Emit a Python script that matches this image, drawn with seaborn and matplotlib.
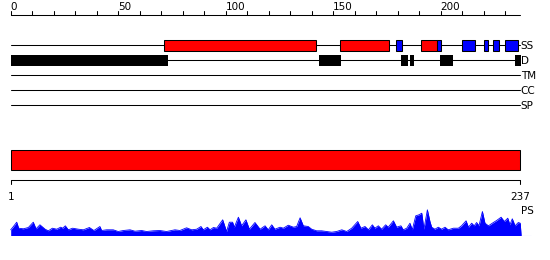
import numpy as np
import pandas as pd
import matplotlib
matplotlib.use("Agg")
import matplotlib.pyplot as plt
import seaborn as sns

# ---------------- data ----------------
seq_len = 237
ruler_ticks = list(range(0, 231, 10))
ruler_labels = [0, 50, 100, 150, 200]

track_names = ["SS", "D", "TM", "CC", "SP"]

helix_start = [71.5, 153.0, 191.0]
helix_end = [142.0, 176.0, 198.4]
strand_start = [179.0, 198.4, 210.0, 220.0, 224.3, 230.0]
strand_end = [182.0, 200.3, 216.0, 222.0, 227.0, 236.0]
disorder_start = [0.0, 143.4, 181.4, 185.8, 199.7, 234.5]
disorder_end = [73.2, 153.4, 184.9, 187.4, 205.5, 237.2]

ps_pos = [0, 0.9, 2.8, 3.7, 5.9, 8.2, 10.5, 11.8, 13.6, 16.0, 17.5, 19.4, 21.4, 23.2,
          24.2, 25.4, 26.8, 28.8, 31.5, 33.8, 36.6, 38.7, 41.5, 42.3, 44.6, 47.7,
          50.0, 52.4, 55.5, 57.8, 60.9, 63.2, 66.3, 69.4, 72.5, 76.4, 78.7, 81.8,
          84.2, 86.5, 88.5, 89.6, 91.5, 92.7, 94.3, 95.8, 98.6, 100.4, 101.7, 103.2,
          104.0, 105.9, 107.4, 109.4, 111.0, 113.6, 116.0, 118.3, 119.8, 121.4,
          122.9, 125.3, 126.8, 129.1, 131.5, 133.0, 134.6, 136.1, 138.4, 140.0,
          142.3, 144.6, 147.0, 149.3, 151.6, 154.0, 156.3, 158.6, 161.4, 162.9,
          164.8, 166.4, 168.2, 169.4, 171.0, 172.5, 174.4, 175.6, 178.0, 179.5,
          181.5, 182.6, 184.2, 185.7, 186.8, 188.4, 189.9, 191.2, 192.2, 193.8,
          195.0, 195.8, 197.3, 198.9, 200.4, 202.0, 203.5, 205.9, 208.2, 209.7,
          211.8, 212.9, 214.4, 215.6, 216.7, 217.8, 219.4, 220.6, 222.2, 224.5,
          226.0, 228.1, 229.6, 231.2, 232.2, 233.3, 234.6, 236.1, 237.0, 237.4]
ps_val = [5.7, 8.0, 13.3, 7.3, 6.7, 8.0, 13.3, 6.7, 10.7, 6.3, 4.7, 7.3, 6.3, 8.3,
          7.3, 9.7, 5.7, 7.3, 6.3, 5.7, 8.0, 5.0, 9.0, 5.0, 5.7, 5.7,
          4.0, 5.0, 5.7, 4.3, 5.0, 4.0, 4.7, 5.0, 4.0, 5.7, 5.0, 7.7,
          5.7, 6.3, 9.0, 5.7, 8.3, 5.7, 8.0, 7.3, 15.7, 4.0, 13.3, 13.3,
          8.3, 18.3, 9.7, 15.7, 6.3, 13.0, 6.3, 9.7, 5.7, 10.7,
          6.3, 8.3, 7.3, 10.3, 8.3, 9.0, 17.7, 9.7, 9.0, 6.3,
          4.7, 4.7, 4.0, 3.3, 4.0, 5.7, 4.0, 7.3, 14.0, 7.3,
          9.0, 5.7, 10.7, 7.3, 9.7, 6.3, 10.7, 8.3, 14.7, 8.3,
          9.7, 5.7, 7.3, 12.3, 5.7, 19.7, 20.7, 22.3, 6.3, 25.7,
          14.0, 8.3, 6.3, 8.3, 6.3, 8.3, 5.7, 7.3, 7.3, 9.7,
          14.7, 8.3, 12.3, 9.7, 13.0, 9.7, 24.0, 12.3, 9.7, 13.0,
          15.0, 18.3, 14.0, 17.3, 10.7, 16.7, 9.7, 13.0, 12.3, 0.0]

# ---------------- layout ----------------
W, H = 550, 260
x0_px, scale = 10.7, 2.15
xlim = (-x0_px / scale, (W - x0_px) / scale)

sns.set_style("white")
plt.rcParams['font.family'] = ['DejaVu Sans']
fs = 7.5
lw = 0.75

fig = plt.figure(figsize=(W / 100, H / 100), dpi=100)
ax = fig.add_axes([0, 0, 1, 1])
ax.set_xlim(*xlim)
ax.set_ylim(H, 0)
ax.axis("off")

# top ruler
ruler_y = 14.7
ax.plot([0, seq_len], [ruler_y, ruler_y], color="black", lw=lw)
for t in ruler_ticks:
    ax.plot([t, t], [ruler_y, ruler_y - 4], color="black", lw=lw)
for t in ruler_labels:
    ax.text(t, 10.2, str(t), ha="left", va="baseline", fontsize=fs, color="black")

# tracks
track_y = [45.3, 60.3, 75.3, 90.3, 105.3]
for name, y in zip(track_names, track_y):
    ax.plot([0, seq_len], [y, y], color="black", lw=lw, zorder=1)
    ax.text(seq_len + 0.2, y + 0.5, name, ha="left", va="center", fontsize=fs, color="black")

box_h = 10.5
ss = pd.DataFrame({
    "start": helix_start + strand_start,
    "end": helix_end + strand_end,
    "kind": ["helix"] * len(helix_start) + ["strand"] * len(strand_start),
})
ss_colors = {"helix": "#ff0000", "strand": "#0000ff"}
for _, r in ss.iterrows():
    ax.barh(track_y[0], r["end"] - r["start"], left=r["start"], height=box_h,
            color=ss_colors[r["kind"]], edgecolor="black", linewidth=lw, zorder=2)
for s, e in zip(disorder_start, disorder_end):
    ax.barh(track_y[1], e - s, left=s, height=11.2, color="black",
            edgecolor="none", linewidth=0, zorder=2)

# big domain bar
ax.barh(160.3, seq_len, left=0, height=20, color="#ff0000", edgecolor="black",
        linewidth=lw, zorder=2)

# bottom ruler
by = 180.3
ax.plot([0, seq_len], [by, by], color="black", lw=lw)
for t in (0, seq_len):
    ax.plot([t, t], [by, by + 3.5], color="black", lw=lw)
ax.text(0.1, 200, "1", ha="center", va="baseline", fontsize=fs, color="black")
ax.text(seq_len, 200, str(seq_len), ha="center", va="baseline", fontsize=fs, color="black")
ax.text(seq_len + 0.3, 211, "PS", ha="left", va="center", fontsize=fs, color="black")

# PS profile
base_px = 235.5
ax_ps = fig.add_axes([0, (H - base_px) / H, 1, 30 / H])
ax_ps.set_xlim(*xlim)
ax_ps.set_ylim(0, 30)
ax_ps.axis("off")
ps = pd.DataFrame({"pos": ps_pos, "val": ps_val})
ax_ps.fill_between(ps["pos"], 0, ps["val"], color="#0000ff", lw=0)
sns.lineplot(data=ps, x="pos", y="val", ax=ax_ps, color="#0000ff", lw=0.6)
ax_ps.plot([0, seq_len + 5], [0, 0], color="#0000ff", lw=lw)

fig.savefig("out.png", dpi=100)
